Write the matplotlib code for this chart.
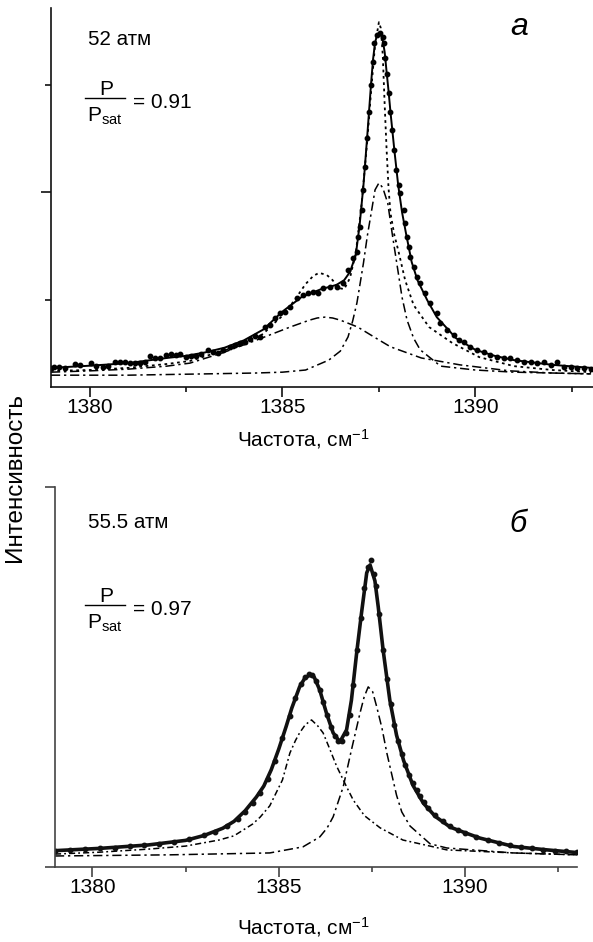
import matplotlib
matplotlib.use("Agg")
import matplotlib.pyplot as plt
from matplotlib.lines import Line2D
from matplotlib.ticker import MultipleLocator, FixedLocator, NullFormatter

plt.rcParams["font.family"] = ["Liberation Sans", "DejaVu Sans"]
plt.rcParams["mathtext.fontset"] = "custom"
plt.rcParams["mathtext.rm"] = "Liberation Sans"
plt.rcParams["mathtext.it"] = "Liberation Sans:italic"

# ---- panel a: 52 atm ----
freq_a_exp = [1379.0, 1379.09, 1379.22, 1379.35, 1379.61, 1379.74,
              1380.04, 1380.17, 1380.35, 1380.48, 1380.65, 1380.78, 1380.91,
              1381.04, 1381.17, 1381.30, 1381.43, 1381.56, 1381.69, 1381.82, 1381.99,
              1382.12, 1382.25, 1382.34, 1382.51, 1382.64, 1382.77, 1382.90,
              1383.07, 1383.20, 1383.33, 1383.46, 1383.64, 1383.77, 1383.90,
              1384.03, 1384.16, 1384.29, 1384.42, 1384.55, 1384.68, 1384.81, 1384.94,
              1385.06, 1385.19, 1385.37, 1385.54, 1385.67, 1385.80, 1385.93,
              1386.06, 1386.23, 1386.41, 1386.58, 1386.71, 1386.84, 1386.93, 1386.97,
              1387.01, 1387.06, 1387.08, 1387.14, 1387.19, 1387.25, 1387.29, 1387.34,
              1387.38, 1387.45, 1387.53, 1387.60, 1387.64, 1387.66, 1387.71, 1387.75,
              1387.79, 1387.85, 1387.90, 1387.95,
              1388.01, 1388.05, 1388.14, 1388.18, 1388.23, 1388.27, 1388.31, 1388.40,
              1388.49, 1388.57, 1388.70, 1388.83,
              1389.01, 1389.09, 1389.26, 1389.44, 1389.57, 1389.70, 1389.87,
              1390.04, 1390.22, 1390.39, 1390.56, 1390.74, 1390.91,
              1391.08, 1391.25, 1391.43, 1391.60, 1391.77, 1391.95,
              1392.12, 1392.29, 1392.47, 1392.64, 1392.81, 1392.99]
int_a_exp = [0.090, 0.092, 0.094, 0.090, 0.100, 0.097,
             0.102, 0.095, 0.094, 0.095, 0.105, 0.105, 0.105,
             0.103, 0.103, 0.102, 0.105, 0.119, 0.113, 0.113, 0.121,
             0.123, 0.121, 0.123, 0.117, 0.119, 0.119, 0.123,
             0.133, 0.129, 0.126, 0.133, 0.140, 0.144, 0.148,
             0.152, 0.157, 0.165, 0.163, 0.187, 0.191, 0.206, 0.218,
             0.222, 0.233, 0.253, 0.260, 0.264, 0.268, 0.264,
             0.276, 0.280, 0.280, 0.288, 0.319, 0.346, 0.361, 0.396,
             0.419, 0.458, 0.505, 0.559, 0.625, 0.685, 0.749, 0.803,
             0.846, 0.865, 0.869, 0.861, 0.846, 0.811, 0.774, 0.730,
             0.687, 0.644, 0.598, 0.551,
             0.516, 0.497, 0.458, 0.427, 0.396, 0.373, 0.350, 0.326,
             0.303, 0.288, 0.264, 0.241,
             0.218, 0.195, 0.179, 0.167, 0.156, 0.152, 0.140,
             0.133, 0.129, 0.121, 0.117, 0.113, 0.113,
             0.109, 0.105, 0.105, 0.102, 0.105, 0.098,
             0.105, 0.094, 0.092, 0.090, 0.090, 0.088]

freq_a_fit = [1379.0, 1380.0, 1381.0, 1382.0, 1382.5, 1383.0, 1383.5, 1384.0, 1384.5, 1385.0,
              1385.5, 1386.0, 1386.4, 1386.6, 1386.75, 1386.9, 1387.0, 1387.1, 1387.2, 1387.3,
              1387.35, 1387.4, 1387.45, 1387.5, 1387.55, 1387.6, 1387.65, 1387.7, 1387.75, 1387.8,
              1387.9, 1388.0, 1388.1, 1388.2, 1388.35, 1388.5, 1388.75, 1389.0, 1389.5, 1390.0,
              1390.5, 1391.0, 1392.0, 1393.0]
int_a_fit = [0.091, 0.096, 0.102, 0.114, 0.119, 0.127, 0.138, 0.155, 0.180, 0.222,
             0.256, 0.274, 0.284, 0.295, 0.314, 0.353, 0.423, 0.516, 0.633, 0.756,
             0.810, 0.847, 0.865, 0.870, 0.866, 0.853, 0.825, 0.779, 0.735, 0.686,
             0.598, 0.516, 0.453, 0.405, 0.337, 0.295, 0.249, 0.209, 0.160, 0.133,
             0.119, 0.109, 0.098, 0.091]

freq_a_alt = [1379.0, 1380.0, 1381.0, 1382.0, 1382.6, 1383.5, 1384.0, 1384.5, 1384.75, 1385.0,
              1385.3, 1385.6, 1385.8, 1385.95, 1386.15, 1386.3, 1386.45, 1386.6, 1386.75, 1386.9,
              1387.05, 1387.2, 1387.3, 1387.4, 1387.5, 1387.55, 1387.6, 1387.65, 1387.7, 1387.75,
              1387.8, 1387.9, 1388.0, 1388.18, 1388.4, 1388.8, 1389.4, 1390.1, 1391.0, 1392.0,
              1393.0]
int_a_alt = [0.084, 0.086, 0.091, 0.100, 0.107, 0.132, 0.145, 0.170, 0.192, 0.212,
             0.247, 0.286, 0.305, 0.312, 0.307, 0.295, 0.277, 0.274, 0.300, 0.358,
             0.470, 0.621, 0.737, 0.842, 0.895, 0.881, 0.819, 0.702, 0.598, 0.509,
             0.451, 0.400, 0.365, 0.295, 0.237, 0.186, 0.149, 0.116, 0.095, 0.086,
             0.081]

freq_a_c1 = [1379.0, 1380.0, 1381.0, 1382.0, 1382.6, 1383.45, 1384.34, 1385.2, 1385.7, 1385.9,
             1386.1, 1386.3, 1386.5, 1386.95, 1387.5, 1387.8, 1388.6, 1389.6, 1390.9, 1392.0,
             1393.0]
int_a_c1 = [0.081, 0.084, 0.088, 0.095, 0.102, 0.126, 0.156, 0.186, 0.202, 0.207,
            0.209, 0.207, 0.202, 0.186, 0.156, 0.140, 0.114, 0.098, 0.084, 0.079,
            0.077]

freq_a_c2 = [1379.0, 1381.0, 1383.0, 1384.3, 1385.0, 1385.6, 1386.2, 1386.5, 1386.7, 1386.82,
             1386.93, 1387.0, 1387.1, 1387.2, 1387.3, 1387.4, 1387.5, 1387.6, 1387.73, 1387.85,
             1387.99, 1388.1, 1388.23, 1388.4, 1388.57, 1389.1, 1390.0, 1391.0, 1392.0, 1393.0]
int_a_c2 = [0.074, 0.074, 0.077, 0.079, 0.081, 0.086, 0.109, 0.130, 0.163, 0.200,
            0.242, 0.280, 0.335, 0.398, 0.451, 0.505, 0.521, 0.510, 0.474, 0.400,
            0.319, 0.255, 0.202, 0.160, 0.133, 0.095, 0.086, 0.081, 0.079, 0.077]

# ---- panel b: 55.5 atm ----
freq_b_exp = [1379.0, 1379.4, 1379.8, 1380.2, 1380.6, 1381.0, 1381.4, 1381.8, 1382.2, 1382.6,
              1383.0, 1383.3, 1383.6, 1383.9, 1384.1, 1384.3, 1384.5, 1384.7, 1384.9, 1385.1,
              1385.3, 1385.45, 1385.6, 1385.7, 1385.8, 1385.9, 1386.0, 1386.1, 1386.2, 1386.3,
              1386.4, 1386.5, 1386.6, 1386.7, 1386.8, 1386.9, 1387.0, 1387.1, 1387.2, 1387.3,
              1387.4, 1387.47, 1387.55, 1387.6, 1387.7, 1387.8, 1387.9, 1388.0, 1388.1, 1388.2,
              1388.3, 1388.4, 1388.5, 1388.6, 1388.7, 1388.8, 1388.9, 1389.0, 1389.2, 1389.4,
              1389.6, 1389.8, 1390.0, 1390.3, 1390.6, 1390.9, 1391.2, 1391.5, 1391.8, 1392.1,
              1392.4, 1392.7, 1393.0]
int_b_exp = [0.043, 0.045, 0.047, 0.049, 0.051, 0.054, 0.057, 0.061, 0.066, 0.073,
             0.083, 0.093, 0.108, 0.127, 0.146, 0.168, 0.196, 0.232, 0.280, 0.340,
             0.397, 0.445, 0.482, 0.500, 0.507, 0.505, 0.490, 0.466, 0.434, 0.400,
             0.368, 0.345, 0.331, 0.332, 0.352, 0.400, 0.480, 0.570, 0.655, 0.735,
             0.790, 0.807, 0.770, 0.740, 0.665, 0.571, 0.495, 0.430, 0.375, 0.332,
             0.298, 0.268, 0.243, 0.222, 0.203, 0.186, 0.170, 0.156, 0.137, 0.121,
             0.107, 0.097, 0.090, 0.080, 0.071, 0.064, 0.058, 0.053, 0.050, 0.046,
             0.043, 0.041, 0.039]

freq_b_fit = [1379.0, 1380.2, 1381.5, 1382.5, 1383.0, 1383.5, 1383.8, 1384.1, 1384.4, 1384.6,
              1384.8, 1385.0, 1385.1, 1385.2, 1385.35, 1385.56, 1385.7, 1385.83, 1385.95, 1386.1,
              1386.28, 1386.46, 1386.64, 1386.82, 1386.95, 1387.09, 1387.22, 1387.36, 1387.45, 1387.58,
              1387.67, 1387.8, 1387.98, 1388.16, 1388.35, 1388.6, 1388.88, 1389.2, 1389.6, 1390.0,
              1390.4, 1391.3, 1392.2, 1393.0]
int_b_fit = [0.043, 0.049, 0.058, 0.070, 0.083, 0.102, 0.120, 0.148, 0.184, 0.213,
             0.256, 0.310, 0.340, 0.370, 0.418, 0.474, 0.497, 0.505, 0.500, 0.466,
             0.405, 0.353, 0.329, 0.361, 0.439, 0.563, 0.668, 0.774, 0.795, 0.753,
             0.684, 0.571, 0.439, 0.347, 0.280, 0.215, 0.168, 0.133, 0.105, 0.090,
             0.076, 0.054, 0.045, 0.038]

freq_b_c1 = [1379.0, 1380.2, 1381.5, 1382.5, 1383.4, 1383.8, 1384.3, 1384.5, 1384.76, 1385.1,
             1385.3, 1385.45, 1385.56, 1385.71, 1385.88, 1386.05, 1386.19, 1386.35, 1386.55, 1386.82,
             1387.0, 1387.3, 1387.72, 1388.33, 1389.06, 1389.51, 1391.3, 1393.0]
int_b_c1 = [0.034, 0.039, 0.047, 0.055, 0.071, 0.082, 0.113, 0.131, 0.161, 0.229,
            0.300, 0.333, 0.353, 0.374, 0.387, 0.371, 0.353, 0.315, 0.266, 0.211,
            0.176, 0.135, 0.103, 0.071, 0.055, 0.045, 0.037, 0.032]

freq_b_c2 = [1379.0, 1382.07, 1384.76, 1385.65, 1386.1, 1386.3, 1386.46, 1386.73, 1386.95, 1387.18,
             1387.29, 1387.4, 1387.52, 1387.63, 1387.77, 1387.9, 1388.16, 1388.3, 1388.52, 1389.06,
             1389.51, 1391.29, 1393.0]
int_b_c2 = [0.029, 0.032, 0.037, 0.053, 0.079, 0.103, 0.132, 0.211, 0.308, 0.405,
            0.447, 0.474, 0.461, 0.421, 0.365, 0.300, 0.189, 0.145, 0.108, 0.061,
            0.050, 0.037, 0.032]

x_ticks = [1380, 1385, 1390]

W, H = 593, 942
fig = plt.figure(figsize=(W / 100, H / 100), dpi=100)


def fx(x):
    return x / W


def fy(y):
    return 1 - y / H


dashdot = (0, (6, 2.5, 1.5, 2.5))
dashdot2 = (0, (4, 2, 1.2, 2))
dots = (0, (1.5, 2.0))

ax1 = fig.add_axes([fx(51), fy(387), fx(593) - fx(51), fy(8) - fy(387)])
ax1.plot(freq_a_c1, int_a_c1, color="k", lw=1.1, ls=dashdot)
ax1.plot(freq_a_c2, int_a_c2, color="k", lw=1.1, ls=dashdot)
ax1.plot(freq_a_alt, int_a_alt, color="k", lw=1.3, ls=dots)
ax1.plot(freq_a_fit, int_a_fit, color="k", lw=1.4)
ax1.plot(freq_a_exp, int_a_exp, "o", color="k", ms=3.2)
ax1.set_xlim(1379, 1393.05)
ax1.set_ylim(0.0465, 0.928)
ax1.yaxis.set_major_locator(MultipleLocator(0.5))
ax1.yaxis.set_minor_locator(MultipleLocator(0.25))
ax1.yaxis.set_major_formatter(NullFormatter())

ax2 = fig.add_axes([fx(55), fy(867), fx(577) - fx(55), fy(487) - fy(867)])
ax2.plot(freq_b_c1, int_b_c1, color="k", lw=1.1, ls=dashdot2)
ax2.plot(freq_b_c2, int_b_c2, color="k", lw=1.1, ls=dashdot)
ax2.plot(freq_b_fit, int_b_fit, color="#111111", lw=2.6)
ax2.plot(freq_b_exp, int_b_exp, "o", color="#111111", ms=3.2)
ax2.set_xlim(1379, 1393)
ax2.set_ylim(0, 1)
ax2.yaxis.set_major_locator(FixedLocator([0, 1]))
ax2.yaxis.set_major_formatter(NullFormatter())

for ax, sc in ((ax1, "#111111"), (ax2, "#444444")):
    ax.spines[["top", "right"]].set_visible(False)
    for s in ("left", "bottom"):
        ax.spines[s].set_color(sc)
        ax.spines[s].set_linewidth(1.2)
    ax.xaxis.set_major_locator(FixedLocator(x_ticks))
    ax.xaxis.set_minor_locator(MultipleLocator(2.5))
    ax.tick_params(axis="x", which="major", direction="out", length=7, width=1.2,
                   color=sc, labelsize=15, pad=1)
    ax.tick_params(axis="x", which="minor", direction="out", length=3.5, width=1.2, color=sc)
    ax.tick_params(axis="y", which="major", direction="out", length=7, width=1.2, color=sc)
    ax.tick_params(axis="y", which="minor", direction="out", length=4, width=1.2, color=sc)

# annotations
fig.text(fx(88), fy(45), "52 атм", fontsize=14.8, va="baseline", ha="left")
fig.text(fx(88), fy(528), "55.5 атм", fontsize=14.8, va="baseline", ha="left")
fig.text(fx(510), fy(35), "а", fontsize=23, style="italic", va="baseline", ha="left")
fig.text(fx(509), fy(532), "б", fontsize=22, style="italic", va="baseline", ha="left")

for bar_y, ratio in ((98, "0.91"), (605, "0.97")):
    fig.text(fx(106), fy(bar_y - 3), "P", fontsize=15, va="baseline", ha="center")
    fig.text(fx(87), fy(bar_y + 24), r"P$_{\mathregular{sat}}$", fontsize=15,
             va="baseline", ha="left")
    fig.add_artist(Line2D([fx(85), fx(125)], [fy(bar_y), fy(bar_y)], color="k", lw=1.0))
    fig.text(fx(133), fy(bar_y + 10), "= " + ratio, fontsize=15, va="baseline", ha="left")

fig.text(fx(303), fy(439), r"Частота, см$^{-1}$", fontsize=15, va="center", ha="center")
fig.text(fx(303), fy(927), r"Частота, см$^{-1}$", fontsize=15, va="center", ha="center")
fig.text(fx(15), fy(477), "Интенсивность", fontsize=17.5, rotation=90, va="center", ha="center")

fig.savefig("out.png", dpi=100)
